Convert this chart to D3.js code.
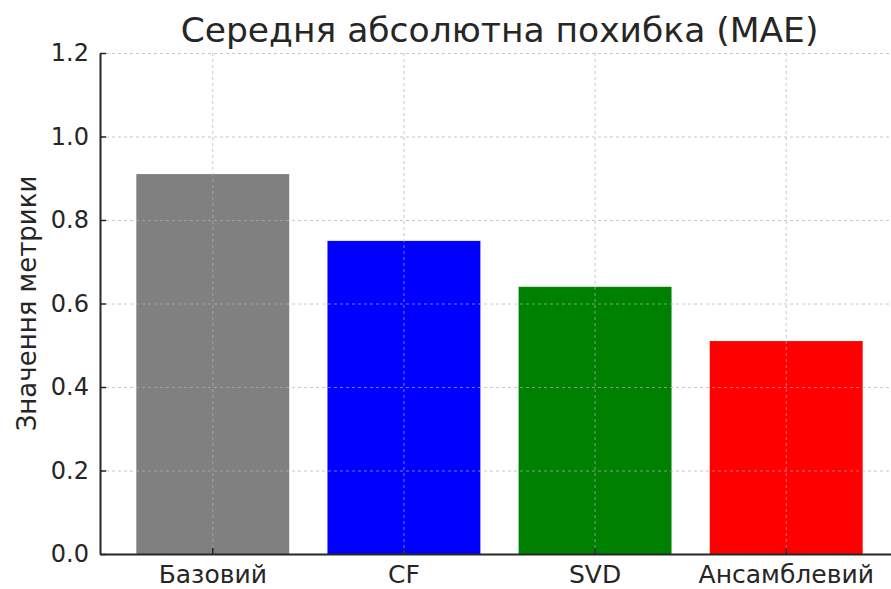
<!DOCTYPE html>
<html>
<head>
<meta charset="utf-8">
<script src="https://cdn.jsdelivr.net/npm/d3@7"></script>
<style>
  html, body { margin: 0; padding: 0; background: #fff; }
  svg { display: block; font-family: "DejaVu Sans", sans-serif; }
</style>
</head>
<body>
<div id="chart"></div>
<script>
// data
const models = ["Базовий", "CF", "SVD", "Ансамблевий"];
const maeValues = [0.91, 0.75, 0.64, 0.51];
const barColors = ["#808080", "#0000ff", "#008000", "#ff0000"];
const yTicks = [0.0, 0.2, 0.4, 0.6, 0.8, 1.0, 1.2];

const width = 891, height = 589;
const margin = { top: 53, right: -8, bottom: 35, left: 100 };

const svg = d3.select("#chart")
  .append("svg")
  .attr("width", width)
  .attr("height", height);

const x = d3.scaleBand()
  .domain(models)
  .range([margin.left, width - margin.right])
  .paddingInner(0.2)
  .paddingOuter(0.19);

const y = d3.scaleLinear()
  .domain([0, 1.2])
  .range([height - margin.bottom, margin.top]);

// bars
svg.append("g")
  .selectAll("rect")
  .data(models)
  .join("rect")
  .attr("x", (d) => x(d))
  .attr("y", (d, i) => y(maeValues[i]))
  .attr("width", x.bandwidth())
  .attr("height", (d, i) => y(0) - y(maeValues[i]))
  .attr("fill", (d, i) => barColors[i]);

// grid on top of bars
const grid = svg.append("g")
  .attr("stroke", "#b0b0b0")
  .attr("stroke-opacity", 0.7)
  .attr("stroke-dasharray", "3,3")
  .attr("stroke-width", 1);

grid.selectAll(".gy")
  .data(yTicks.slice(1))
  .join("line")
  .attr("x1", margin.left)
  .attr("x2", width)
  .attr("y1", (d) => y(d) + 0.5)
  .attr("y2", (d) => y(d) + 0.5);

grid.selectAll(".gx")
  .data(models)
  .join("line")
  .attr("x1", (d) => x(d) + x.bandwidth() / 2)
  .attr("x2", (d) => x(d) + x.bandwidth() / 2)
  .attr("y1", y(1.2))
  .attr("y2", y(0));

// axes
const yAxis = svg.append("g")
  .attr("transform", `translate(${margin.left},0)`)
  .call(d3.axisLeft(y).tickValues(yTicks).tickFormat(d3.format(".1f")).tickSizeInner(-6).tickSizeOuter(0).tickPadding(11));

const xAxis = svg.append("g")
  .attr("transform", `translate(0,${y(0)})`)
  .call(d3.axisBottom(x).tickSizeInner(-6).tickSizeOuter(0).tickPadding(11));

[yAxis, xAxis].forEach((g) => {
  g.select(".domain").attr("stroke", "#262626").attr("stroke-width", 2);
  g.selectAll(".tick line").attr("stroke", "#262626").attr("stroke-width", 1.5);
  g.selectAll(".tick text")
    .attr("fill", "#262626")
    .style("font-family", "DejaVu Sans, sans-serif");
});
yAxis.selectAll(".tick text").style("font-size", "24px");
xAxis.selectAll(".tick text").style("font-size", "25px");

// title
svg.append("text")
  .attr("x", (margin.left + width - margin.right) / 2)
  .attr("y", 42)
  .attr("text-anchor", "middle")
  .attr("fill", "#262626")
  .style("font-size", "34.5px")
  .text("Середня абсолютна похибка (MAE)");

// y label
svg.append("text")
  .attr("transform", `translate(36,${y(0.6)}) rotate(-90)`)
  .attr("text-anchor", "middle")
  .attr("fill", "#262626")
  .style("font-size", "26px")
  .text("Значення метрики");
</script>
</body>
</html>
